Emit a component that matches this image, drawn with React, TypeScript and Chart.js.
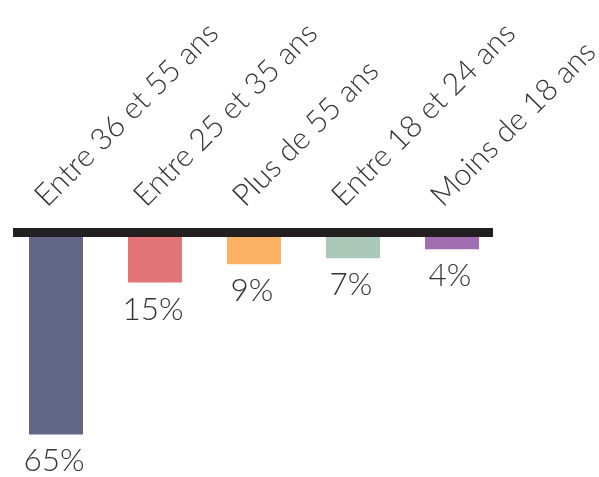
import React, { useEffect, useRef } from "react";
import { Chart, registerables } from "chart.js";

Chart.register(...registerables);

const categories = [
  "Entre 36 et 55 ans",
  "Entre 25 et 35 ans",
  "Plus de 55 ans",
  "Entre 18 et 24 ans",
  "Moins de 18 ans",
];
const shares = [65, 15, 9, 7, 4];
const barColors = ["#636787", "#e27377", "#fdb165", "#abc9b8", "#a16fb1"];
const valueLabels = ["65%", "15%", "9%", "7%", "4%"];

const FONT = "'Lato Light', Lato, 'Noto Sans', sans-serif";
const TEXT_COLOR = "#333333";

const topLinePlugin = {
  id: "topLine",
  afterDatasetsDraw(chart: any) {
    const ctx = chart.ctx;
    const meta = chart.getDatasetMeta(0);
    const first = meta.data[0];
    const last = meta.data[meta.data.length - 1];
    if (!first || !last) return;
    const left = first.x - first.width / 2 - 16;
    const right = last.x + last.width / 2 + 14;
    const top = chart.chartArea.top;
    ctx.save();
    ctx.fillStyle = "#231f20";
    ctx.fillRect(left, top - 9, right - left, 9);
    ctx.restore();
  },
};

const valueLabelPlugin = {
  id: "valueLabels",
  afterDatasetsDraw(chart: any) {
    const ctx = chart.ctx;
    const meta = chart.getDatasetMeta(0);
    ctx.save();
    ctx.font = `300 31.5px ${FONT}`;
    ctx.fillStyle = TEXT_COLOR;
    ctx.textAlign = "center";
    ctx.textBaseline = "alphabetic";
    meta.data.forEach((bar: any, i: number) => {
      ctx.fillText(valueLabels[i], bar.x - 2, bar.y + 37);
    });
    ctx.restore();
  },
};

export default function App() {
  const canvasRef = useRef<HTMLCanvasElement | null>(null);

  useEffect(() => {
    if (!canvasRef.current) return;
    const chart = new Chart(canvasRef.current, {
      type: "bar",
      data: {
        labels: categories,
        datasets: [
          {
            data: shares,
            backgroundColor: barColors,
            borderWidth: 0,
            barPercentage: 0.545,
            categoryPercentage: 1,
          },
        ],
      },
      options: {
        animation: false,
        responsive: true,
        maintainAspectRatio: false,
        layout: { padding: { left: 6.5, right: 97.5, top: 0, bottom: 0 } },
        plugins: {
          legend: { display: false },
          tooltip: { enabled: false },
        },
        scales: {
          x: {
            type: "category",
            position: "top",
            grid: { display: false },
            border: { display: false },
            ticks: {
              autoSkip: false,
              minRotation: 45,
              maxRotation: 45,
              labelOffset: 10,
              padding: 15,
              color: TEXT_COLOR,
              font: { family: FONT, size: 30.5, weight: "300" as any },
            },
            afterFit: (scale: any) => {
              scale.height = 237;
              scale.paddingLeft = 0;
              scale.paddingRight = 0;
              scale.paddingTop = 0;
              scale.paddingBottom = 0;
            },
          },
          y: {
            type: "linear",
            reverse: true,
            min: 0,
            max: 79,
            display: false,
          },
        },
      },
      plugins: [topLinePlugin, valueLabelPlugin],
    });
    return () => chart.destroy();
  }, []);

  return (
    <div
      style={{
        position: "fixed",
        left: 0,
        top: 0,
        width: 599,
        height: 477,
        background: "#ffffff",
      }}
    >
      <canvas ref={canvasRef} />
    </div>
  );
}
